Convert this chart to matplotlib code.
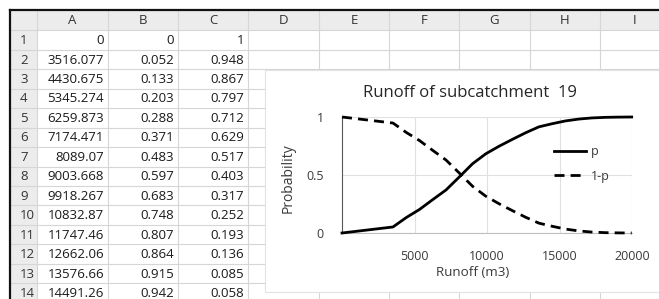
import matplotlib
matplotlib.use("Agg")
import matplotlib.pyplot as plt
from matplotlib.patches import Rectangle

plt.rcParams['font.family'] = ['Open Sans', 'DejaVu Sans']

# ---------------- data ----------------
col_letters = ["A", "B", "C", "D", "E", "F", "G", "H", "I"]
runoff = [0, 3516.077, 4430.675, 5345.274, 6259.873, 7174.471, 8089.07,
          9003.668, 9918.267, 10832.87, 11747.46, 12662.06, 13576.66,
          14491.26, 15405.86, 16320.46, 17235.06, 18149.66, 19064.26,
          19978.86]
p = [0, 0.052, 0.133, 0.203, 0.288, 0.371, 0.483, 0.597, 0.683, 0.748,
     0.807, 0.864, 0.915, 0.942, 0.966, 0.982, 0.992, 0.997, 0.999, 1.0]
one_minus_p = [1, 0.948, 0.867, 0.797, 0.712, 0.629, 0.517, 0.403, 0.317,
               0.252, 0.193, 0.136, 0.085, 0.058, 0.034, 0.018, 0.008,
               0.003, 0.001, 0.0]
visible_rows = 14
x_ticks = [5000, 10000, 15000, 20000]
y_ticks = [0, 0.5, 1]
y_tick_labels = ["0", "0.5", "1"]
title = "Runoff of subcatchment  19"
x_label = "Runoff (m3)"
y_label = "Probability"

W, H = 659, 299
fig = plt.figure(figsize=(W / 100, H / 100), dpi=100)

# background sheet axes in pixel coordinates
bg = fig.add_axes([0, 0, 1, 1])
bg.set_xlim(0, W)
bg.set_ylim(H, 0)
bg.axis("off")

grid_c = "#d6d6d6"
head_fill = "#ececec"
left = 10
top = 10
head_bottom = 30.4
row_h = 19.45
rownum_right = 37
col_edges = [37, 108, 178, 248, 319, 389, 459, 530, 600, 670]

# header fills
bg.add_patch(Rectangle((left, top), W - left, head_bottom - top, color=head_fill, lw=0, zorder=1))
bg.add_patch(Rectangle((left, head_bottom), rownum_right - left, H - head_bottom, color=head_fill, lw=0, zorder=1))

# horizontal row lines
y = head_bottom
while y < H + 1:
    bg.plot([left, W], [y, y], color=grid_c, lw=0.8, zorder=2)
    y += row_h
# vertical column lines
for xe in col_edges:
    bg.plot([xe, xe], [top, H], color=grid_c, lw=0.8, zorder=2)

# black frame top/left
bg.plot([left, W], [top, top], color="#111111", lw=1.6, zorder=5)
bg.plot([left, left], [top, H], color="#111111", lw=1.6, zorder=5)

# column letters
for i, letter in enumerate(col_letters):
    xc = (col_edges[i] + col_edges[i + 1]) / 2
    bg.text(xc, (top + head_bottom) / 2 + 0.5, letter, ha="center", va="center",
            fontsize=9.5, color="#333333", zorder=6)

def fmt(v):
    return "%.7g" % v

for r in range(visible_rows):
    yc = head_bottom + r * row_h + row_h / 2 + 0.5
    bg.text(20, yc, str(r + 1), ha="left", va="center", fontsize=9.5, color="#333333", zorder=6)
    for ci, vals in enumerate([runoff, p, one_minus_p]):
        bg.text(col_edges[ci + 1] - 4, yc, fmt(vals[r]), ha="right", va="center",
                fontsize=9.5, color="#1a1a1a", zorder=6)

# chart area
bg.add_patch(Rectangle((265, 70), W - 265 + 5, 292 - 70, facecolor="white",
                       edgecolor="#e2e2e2", lw=0.8, zorder=8))

# ---------------- chart ----------------
x0, x1 = 342, 632
y0, y1 = 233, 117
ax = fig.add_axes([x0 / W, (H - y0) / H, (x1 - x0) / W, (y0 - y1) / H], zorder=10)
ax.patch.set_alpha(0)
ax.set_xlim(0, 20000)
ax.set_ylim(0, 1)

ax.plot(runoff, p, color="black", lw=2.0, label="p", clip_on=False, zorder=5)
ax.plot(runoff, one_minus_p, color="black", lw=2.0, dashes=(3.6, 2.2),
        label="1-p", clip_on=False, zorder=5)

ax.set_xticks(x_ticks)
ax.set_yticks(y_ticks)
ax.set_yticklabels(y_tick_labels)
ax.grid(True, color="#e0e0e0", lw=0.8)
ax.set_axisbelow(True)
for s in ["top", "right"]:
    ax.spines[s].set_visible(False)
ax.spines["bottom"].set_color("#bfbfbf")
ax.spines["left"].set_color("#595959")
ax.spines["left"].set_linewidth(0.8)
ax.tick_params(length=0, labelsize=9, colors="#3a3a3a")
ax.tick_params(axis="x", pad=12)
ax.tick_params(axis="y", pad=13)

ax.set_xlabel(x_label, fontsize=9.6, color="#3a3a3a")
ax.xaxis.set_label_coords((473 - x0) / (x1 - x0), -(273 - y0) / (y0 - y1), transform=ax.transAxes)
ax.xaxis.label.set_va("center")
ax.set_ylabel(y_label, fontsize=10, color="#3a3a3a")
ax.yaxis.set_label_coords((288 - x0) / (x1 - x0), (y0 - 178) / (y0 - y1), transform=ax.transAxes)
ax.yaxis.label.set_va("center")
fig.text(470 / W, (H - 93) / H, title, ha="center", va="center", fontsize=12,
         color="#262626", zorder=12)

leg = ax.legend(loc="center left", bbox_to_anchor=((548 - x0) / (x1 - x0), (233 - 164) / (y0 - y1)),
                frameon=False, fontsize=9, handlelength=2.5, handletextpad=0.4,
                labelspacing=0.9, borderpad=0)
for t in leg.get_texts():
    t.set_color("#3a3a3a")

fig.savefig("out.png", dpi=100)
